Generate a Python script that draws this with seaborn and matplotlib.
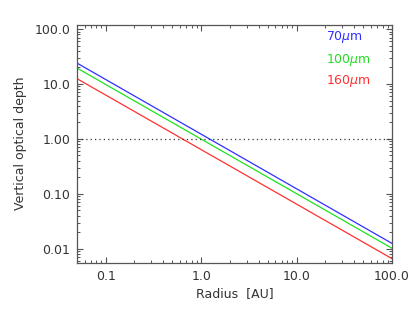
import numpy as np
import pandas as pd
import seaborn as sns
import matplotlib
matplotlib.use("Agg")
import matplotlib.pyplot as plt
from matplotlib.ticker import FixedLocator, FixedFormatter, LogLocator, NullFormatter

# Values (end points of each power-law line)
radius = [0.05, 100.0]
tau_70 = [24.0, 0.0125]
tau_100 = [19.5, 0.0102]
tau_160 = [12.5, 0.0066]
bands = ["70$\\mu$m", "100$\\mu$m", "160$\\mu$m"]
colors = ["#3030ff", "#20e020", "#ff3030"]

df = pd.DataFrame({
    "radius": radius * 3,
    "tau": tau_70 + tau_100 + tau_160,
    "band": [b for b in bands for _ in radius],
})

sns.set_style("ticks")
plt.rcParams["font.family"] = ["DejaVu Sans"]
plt.rcParams["mathtext.fontset"] = "dejavusans"

fs = 9
txt = "#333333"
fig = plt.figure(figsize=(4.15, 3.12), dpi=100)
ax = fig.add_axes([77 / 415, 1 - 263 / 312, 315 / 415, 238.5 / 312])

sns.lineplot(data=df, x="radius", y="tau", hue="band", palette=colors,
             linewidth=0.9, legend=False, ax=ax)
ax.axhline(1.0, color="#333333", linestyle=(0, (1, 2.5)), linewidth=0.9)

ax.set_xscale("log")
ax.set_yscale("log")
ax.set_xlim(0.05, 100)
ax.set_ylim(0.0055, 121)

ax.xaxis.set_major_locator(FixedLocator([0.1, 1, 10, 100]))
ax.xaxis.set_major_formatter(FixedFormatter(["0.1", "1.0", "10.0", "100.0"]))
ax.yaxis.set_major_locator(FixedLocator([0.01, 0.1, 1, 10, 100]))
ax.yaxis.set_major_formatter(FixedFormatter(["0.01", "0.10", "1.00", "10.0", "100.0"]))
for axis in (ax.xaxis, ax.yaxis):
    axis.set_minor_locator(LogLocator(base=10, subs=np.arange(2, 10)))
    axis.set_minor_formatter(NullFormatter())

ax.tick_params(which="both", direction="in", top=True, right=True,
               color="#555555", labelsize=fs, labelcolor=txt, pad=5)
ax.tick_params(which="major", length=4, width=0.8)
ax.tick_params(which="minor", length=2, width=0.7)
for sp in ax.spines.values():
    sp.set_color("#555555")
    sp.set_linewidth(0.9)

ax.set_xlabel("Radius  [AU]", fontsize=fs, color=txt, labelpad=3)
ax.set_ylabel("Vertical optical depth", fontsize=fs, color=txt, labelpad=5)

ypos = [0.948, 0.851, 0.763]
for b, c, y in zip(bands, colors, ypos):
    ax.text(0.79, y, b, color=c, fontsize=fs, transform=ax.transAxes,
            ha="left", va="center")

fig.savefig("out.png", dpi=100)
